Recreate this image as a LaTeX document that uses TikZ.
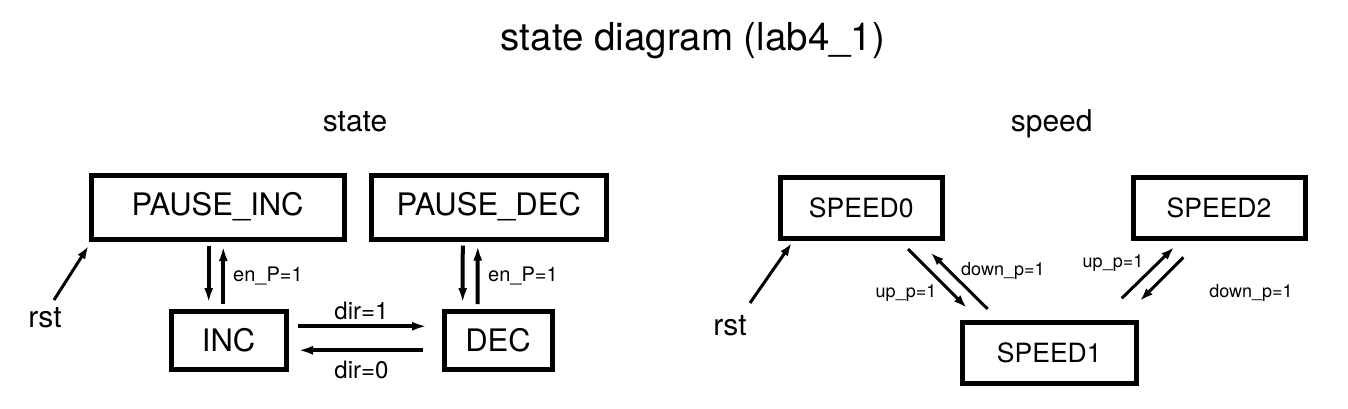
\documentclass[tikz,border=0pt]{standalone}
\usepackage{fontspec}
\setmainfont{TeX Gyre Heros}
\usetikzlibrary{calc,arrows.meta}

\begin{document}
\begin{tikzpicture}[x=1pt,y=-1pt,
    box/.style={draw,line width=5pt,inner sep=0pt,font=\fontsize{31}{37}\selectfont},
    sbox/.style={box,font=\fontsize{26.5}{31}\selectfont},
    lbl/.style={inner sep=0pt,font=\fontsize{#1}{#1}\selectfont},
    bigarr/.style={-{Latex[length=15pt,width=9pt]},line width=4pt},
    smallarr/.style={-{Latex[length=13pt,width=9pt]},line width=3pt}]

    \useasboundingbox (0,0) rectangle (1348,408);

    \node[lbl=38.5,anchor=base] (title) at (693,50.7) {state diagram (lab4\_1)};
    \node[lbl=30,anchor=base] (hState) at (355,131) {state};
    \node[lbl=30,anchor=base] (hSpeed) at (1051.7,131) {speed};

    \node[box,minimum width=253pt,minimum height=64pt] (pInc) at (217.5,207) {PAUSE\_INC};
    \node[box,minimum width=234.5pt,minimum height=64pt] (pDec) at (488.75,207) {PAUSE\_DEC};
    \node[box,minimum width=115pt,minimum height=57.5pt] (inc) at (228.5,340.25) {INC};
    \node[box,minimum width=108pt,minimum height=57.5pt] (dec) at (498,340.25) {DEC};

    \node[lbl=30,anchor=base] (rstA) at (45,327) {rst};
    \node[lbl=20,anchor=base west] (enA) at (233,281) {en\_P=1};
    \node[lbl=20,anchor=base west] (enB) at (488,281) {en\_P=1};
    \node[lbl=24,anchor=base] (dirA) at (361.5,319) {dir=1};
    \node[lbl=24,anchor=base] (dirB) at (361.5,378) {dir=0};

    \draw[smallarr] ($(rstA.base)+(9,-27)$) -- ($(pInc.south west)+(0,4.5)$);
    \draw[bigarr] ($(pInc.south)+(-8.8,4.5)$) -- ($(inc.north)+(-19.8,-6)$);
    \draw[bigarr] ($(inc.north)+(-5.2,-5)$) -- ($(pInc.south)+(5.8,4.5)$);
    \draw[bigarr] ($(pDec.south)+(-26,4)$) -- ($(dec.north)+(-35.3,-6)$);
    \draw[bigarr] ($(dec.north)+(-20.3,-5)$) -- ($(pDec.south)+(-11,4)$);
    \draw[bigarr] ($(inc.east)+(9.5,-14)$) -- ($(dec.west)+(-14.5,-14)$);
    \draw[bigarr] ($(dec.west)+(-18.5,10)$) -- ($(inc.east)+(9.5,10)$);

    \node[sbox,minimum width=162.5pt,minimum height=61pt] (sp0) at (861.25,208) {SPEED0};
    \node[sbox,minimum width=173.5pt,minimum height=61pt] (sp1) at (1049.25,352.5) {SPEED1};
    \node[sbox,minimum width=172pt,minimum height=61pt] (sp2) at (1219,208) {SPEED2};

    \node[lbl=30,anchor=base] (rstB) at (730,335) {rst};
    \node[lbl=18,anchor=base] (upA) at (906,297) {up\_p=1};
    \node[lbl=18,anchor=base west] (downA) at (961,275.5) {down\_p=1};
    \node[lbl=18,anchor=base] (upB) at (1113,267.5) {up\_p=1};
    \node[lbl=18,anchor=base] (downB) at (1251,297.5) {down\_p=1};

    \draw[smallarr] ($(rstB.base)+(20,-32)$) -- ($(sp0.south west)+(14.2,2)$);
    \draw[smallarr] ($(sp0.south)+(46.8,8)$) -- ($(sp1.north)+(-82.6,-11.8)$);
    \draw[smallarr] ($(sp1.north)+(-61.6,-10.5)$) -- ($(sp0.south)+(69.5,11.7)$);
    \draw[smallarr] ($(sp1.north)+(72.5,-21.2)$) -- ($(sp2.south)+(-45,6.3)$);
    \draw[smallarr] ($(sp2.south)+(-35.7,16.3)$) -- ($(sp1.north)+(90.8,-18.8)$);
  \end{tikzpicture}
\end{document}
